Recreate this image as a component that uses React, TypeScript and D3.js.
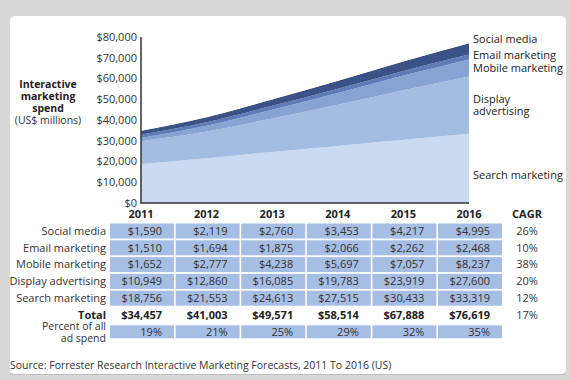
import React from 'react';
import * as d3 from 'd3';

const years = ['2011', '2012', '2013', '2014', '2015', '2016'];
const seriesNames = ['Social media', 'Email marketing', 'Mobile marketing', 'Display advertising', 'Search marketing'];
const social = [1590, 2119, 2760, 3453, 4217, 4995];
const email = [1510, 1694, 1875, 2066, 2262, 2468];
const mobile = [1652, 2777, 4238, 5697, 7057, 8237];
const display = [10949, 12860, 16085, 19783, 23919, 27600];
const search = [18756, 21553, 24613, 27515, 30433, 33319];
const totals = [34457, 41003, 49571, 58514, 67888, 76619];
const percentAll = ['19%', '21%', '25%', '29%', '32%', '35%'];
const cagr = ['26%', '10%', '38%', '20%', '12%', '17%'];
const yTicks = [0, 10000, 20000, 30000, 40000, 50000, 60000, 70000, 80000];

const FONT = "'Open Sans', sans-serif";

export default function App() {
  const x = d3.scalePoint<string>().domain(years).range([141, 469]);
  const y = d3.scaleLinear().domain([0, 80000]).range([203, 37]);

  const rows = years.map((yr, i) => ({
    year: yr,
    search: search[i],
    display: display[i],
    mobile: mobile[i],
    email: email[i],
    social: social[i],
  }));
  const keys = ['search', 'display', 'mobile', 'email', 'social'];
  const colors: Record<string, string> = {
    search: '#cadbf1',
    display: '#a2bce2',
    mobile: '#87a3d3',
    email: '#5d7bb6',
    social: '#3a5288',
  };
  const stack = d3.stack<any>().keys(keys)(rows);
  const area = d3
    .area<any>()
    .x((d) => x(d.data.year) as number)
    .y0((d) => y(d[0]))
    .y1((d) => y(d[1]))
    .curve(d3.curveMonotoneX);

  const tableValues = [social, email, mobile, display, search];
  const fmt = d3.format('$,');
  const rowY0 = 231;
  const pitch = 16.8;
  const cellW = 64;
  const cellH = 15;
  const cx = (yr: string) => (x(yr) as number) + 1;

  const legend = [
    { t: ['Social media'], y: 39 },
    { t: ['Email marketing'], y: 55 },
    { t: ['Mobile marketing'], y: 68 },
    { t: ['Display', 'advertising'], y: 99 },
    { t: ['Search marketing'], y: 175 },
  ];

  return (
    <svg width={570} height={380} style={{ position: 'absolute', left: 0, top: 0 }} fontFamily={FONT}>
      <rect x={0} y={0} width={570} height={380} fill="#d8d8d8" />
      <rect x={10} y={16} width={556} height={358} rx={5} fill="#ffffff" />
      <line x1={10} x2={566} y1={374.5} y2={374.5} stroke="#bdbdbd" />

      {stack.map((s) => (
        <path key={s.key} d={area(s) as string} fill={colors[s.key]} />
      ))}
      <path
        d={
          d3
            .line<any>()
            .x((d) => x(d.data.year) as number)
            .y((d) => y(d[1]))
            .curve(d3.curveMonotoneX)(stack[4]) as string
        }
        fill="none"
        stroke="#2f4677"
        strokeWidth={1}
      />

      <line x1={141} x2={141} y1={37} y2={203.5} stroke="#333" strokeWidth={1.5} />
      <line x1={140.5} x2={469} y1={203} y2={203} stroke="#333" strokeWidth={1.5} />

      {yTicks.map((t) => (
        <text key={t} x={137} y={y(t)} dy="0.35em" textAnchor="end" fontSize={11} fill="#333">
          {fmt(t)}
        </text>
      ))}

      <g fontSize={10.5} fill="#222" textAnchor="middle">
        <text x={48} y={88} fontWeight="bold">Interactive</text>
        <text x={48} y={100} fontWeight="bold">marketing</text>
        <text x={48} y={112} fontWeight="bold">spend</text>
        <text x={48} y={124} fill="#333">(US$ millions)</text>
      </g>

      {legend.map((l, i) => (
        <text key={i} x={473} y={l.y} fontSize={11} fill="#222">
          {l.t.map((line, j) => (
            <tspan key={j} x={473} dy={j === 0 ? '0.35em' : '1.1em'}>
              {line}
            </tspan>
          ))}
        </text>
      ))}

      {years.map((yr) => (
        <text key={yr} x={cx(yr) - 1} y={214} dy="0.35em" textAnchor="middle" fontSize={11} fontWeight="bold" fill="#222">
          {yr}
        </text>
      ))}
      <text x={527} y={214} dy="0.35em" textAnchor="middle" fontSize={11} fontWeight="bold" fill="#222">
        CAGR
      </text>

      {seriesNames.map((name, r) => {
        const cy = rowY0 + r * pitch;
        return (
          <g key={name}>
            <text x={106} y={cy} dy="0.35em" textAnchor="end" fontSize={11} fill="#333">
              {name}
            </text>
            {years.map((yr, i) => (
              <g key={yr}>
                <rect x={cx(yr) - cellW / 2} y={cy - cellH / 2} width={cellW} height={cellH} fill="#a6bee3" />
                <text x={cx(yr) + 20} y={cy} dy="0.35em" textAnchor="end" fontSize={11} fill="#333">
                  {fmt(tableValues[r][i])}
                </text>
              </g>
            ))}
            <text x={527} y={cy} dy="0.35em" textAnchor="middle" fontSize={11} fill="#333">
              {cagr[r]}
            </text>
          </g>
        );
      })}

      <text x={106} y={rowY0 + 5 * pitch} dy="0.35em" textAnchor="end" fontSize={11} fontWeight="bold" fill="#222">
        Total
      </text>
      {years.map((yr, i) => (
        <text key={yr} x={cx(yr) + 20} y={rowY0 + 5 * pitch} dy="0.35em" textAnchor="end" fontSize={11} fontWeight="bold" fill="#222">
          {fmt(totals[i])}
        </text>
      ))}
      <text x={527} y={rowY0 + 5 * pitch} dy="0.35em" textAnchor="middle" fontSize={11} fill="#333">
        {cagr[5]}
      </text>

      <text x={106} y={326.5} dy="0.35em" textAnchor="end" fontSize={10.5} fill="#333">Percent of all</text>
      <text x={106} y={338.5} dy="0.35em" textAnchor="end" fontSize={10.5} fill="#333">ad spend</text>
      {years.map((yr, i) => {
        const cy = rowY0 + 6 * pitch;
        return (
          <g key={yr}>
            <rect x={cx(yr) - cellW / 2} y={cy - 6.5} width={cellW} height={13} fill="#a6bee3" />
            <text x={cx(yr) + 20} y={cy} dy="0.35em" textAnchor="end" fontSize={11} fill="#333">
              {percentAll[i]}
            </text>
          </g>
        );
      })}

      <text x={10} y={365} dy="0.35em" fontSize={10.5} fill="#333">
        Source: Forrester Research Interactive Marketing Forecasts, 2011 To 2016 (US)
      </text>
    </svg>
  );
}
